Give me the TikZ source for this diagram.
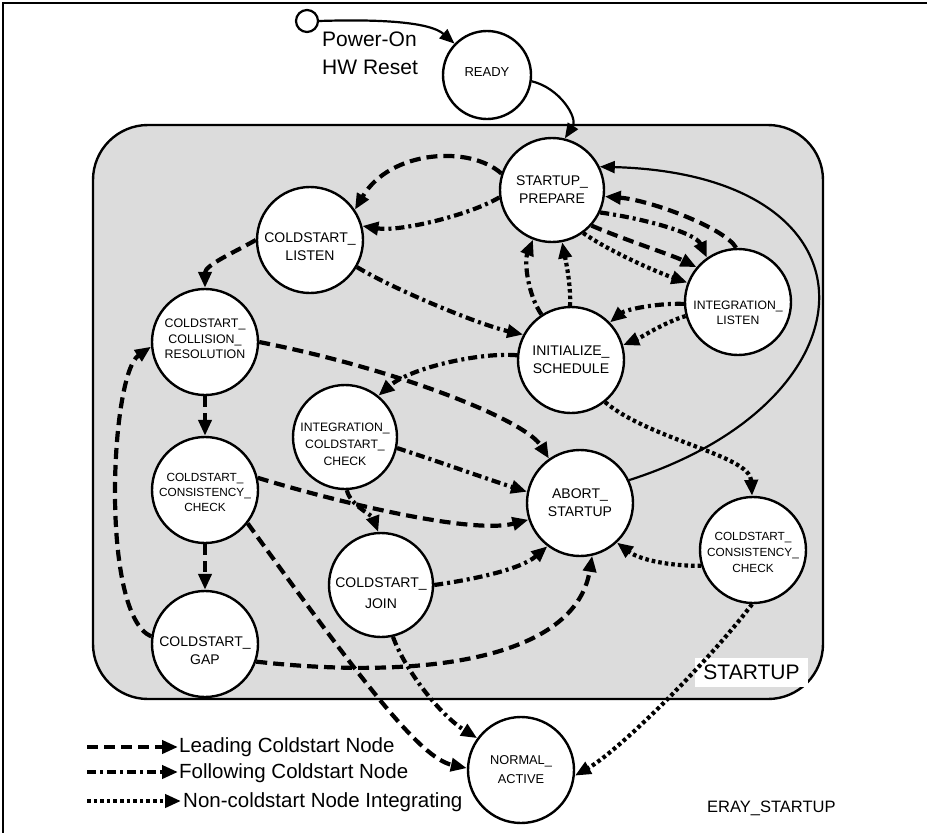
\documentclass[tikz,border=0pt]{standalone}
\usepackage{fontspec}
\setmainfont{Liberation Sans}
\usetikzlibrary{arrows.meta}
\definecolor{boxgray}{RGB}{220,220,220}
\tikzset{
  st/.style={circle, draw=black, line width=2.4pt, fill=white, inner sep=0pt},
  tx/.style={align=center, inner sep=0pt},
  fa/.style={font=\fontsize{14}{18}\selectfont},
  tip/.style={-{Triangle[length=16pt,width=13pt]}},
  lead/.style={tip, line width=4.2pt, dash pattern=on 11pt off 6pt},
  foll/.style={tip, line width=4.2pt, dash pattern=on 9pt off 4pt on 3pt off 4pt},
  nonc/.style={tip, line width=4.2pt, dash pattern=on 3.6pt off 3pt},
  sol/.style={line width=2.2pt, -{Triangle[length=15pt,width=12pt]}},
  bigtext/.style={inner sep=0pt, font=\fontsize{21}{28}\selectfont},
}
\begin{document}
\begin{tikzpicture}[x=1pt,y=-1pt]
\useasboundingbox (0,0) rectangle (927,833);
% outer frame (cropped)
\draw[line width=2pt] (2.5,845) -- (2.5,3) -- (940,3);
% STARTUP region
\draw[line width=2.4pt, fill=boxgray, rounded corners=55pt] (93,125) rectangle (823,699);
\node[fill=white, inner sep=0pt, minimum width=113pt, minimum height=29pt,
      font=\fontsize{21}{25}\selectfont] (lbl) at (751.5,672.5) {STARTUP};

% states
\node[st, minimum size=22pt, line width=2.2pt] (init) at (307,21) {};
\node[bigtext, anchor=west, align=left] (pwr) at (322,53) {Power-On\\HW Reset};
\node[st, minimum size=88pt, label={[tx, font=\fontsize{13}{16}\selectfont, yshift=3pt]center:READY}] (rdy) at (487,75) {};
\node[st, minimum size=104pt, label={[tx, fa]center:STARTUP\_\\PREPARE}] (sp) at (552,190) {};
\node[st, minimum size=106pt, label={[tx, fa, yshift=-7pt]center:COLDSTART\_\\LISTEN}] (cl) at (310,240) {};
\node[st, minimum size=106pt, label={[tx, font=\fontsize{12.2}{14.5}\selectfont, yshift=-11pt]center:INTEGRATION\_\\LISTEN}] (il) at (738,302) {};
\node[st, minimum size=106pt, label={[tx, fa]center:INITIALIZE\_\\SCHEDULE}] (is) at (571,360) {};
\node[st, minimum size=106pt, label={[tx, font=\fontsize{12.4}{15.5}\selectfont, yshift=3pt]center:COLDSTART\_\\COLLISION\_\\RESOLUTION}] (ccr) at (205,342) {};
\node[st, minimum size=106pt, label={[tx, font=\fontsize{11.8}{15}\selectfont, yshift=-2pt]center:COLDSTART\_\\CONSISTENCY\_\\CHECK}] (ccl) at (205,490) {};
\node[st, minimum size=106pt, label={[tx, fa, yshift=-7pt]center:COLDSTART\_\\GAP}] (gap) at (205,644) {};
\node[st, minimum size=104pt, label={[tx, font=\fontsize{12.2}{17}\selectfont, yshift=-7pt]center:INTEGRATION\_\\COLDSTART\_\\CHECK}] (icc) at (345,437) {};
\node[st, minimum size=106pt, label={[tx, fa]center:ABORT\_\\STARTUP}] (as) at (580,503) {};
\node[st, minimum size=104pt, label={[tx, font=\fontsize{14}{21}\selectfont, yshift=-8pt]center:COLDSTART\_\\JOIN}] (cj) at (381,585) {};
\node[st, minimum size=106pt, label={[tx, font=\fontsize{11.8}{16}\selectfont, yshift=-2pt]center:COLDSTART\_\\CONSISTENCY\_\\CHECK}] (ccrt) at (753,550) {};
\node[st, minimum size=106pt, label={[tx, font=\fontsize{12.8}{19}\selectfont]center:NORMAL\_\\ACTIVE}] (na) at (521,770) {};

% solid transitions
\draw[sol] (init.0) .. controls (380,19) and (430,22) .. (rdy.136);
\draw[sol] (rdy.-8) .. controls (560,88) and (578,118) .. (sp.76);
\draw[sol] (as.25) .. controls (880,400) and (890,175) .. (sp.26);

% transitions
\draw[lead] (sp.162) .. controls (470,145) and (390,150) .. (cl.34);
\draw[foll] (sp.188) .. controls (470,215) and (400,232) .. (cl.15);
\draw[lead] (cl.180) .. controls (235,252) and (205,265) .. (ccr.90);
\draw[foll] (cl.-30) .. controls (395,290) and (480,325) .. (is.152);
\draw[foll] (is.123) .. controls (528,295) and (524,262) .. (sp.249);
\draw[nonc] (is.91) .. controls (571,285) and (566,262) .. (sp.281);
\draw[foll] (sp.-25) .. controls (640,218) and (695,232) .. (il.125);
\draw[lead] (sp.-42) .. controls (625,240) and (672,255) .. (il.140);
\draw[nonc] (sp.-54) .. controls (615,255) and (665,275) .. (il.159);
\draw[lead] (il.92) .. controls (725,228) and (650,200) .. (sp.-7);
\draw[foll] (il.182) .. controls (655,303) and (625,310) .. (is.44);
\draw[nonc] (il.195) .. controls (665,322) and (640,338) .. (is.16);
\draw[foll] (is.175) .. controls (480,352) and (410,368) .. (icc.51);
\draw[nonc] (is.-51) .. controls (650,440) and (750,455) .. (ccrt.91);
\draw[lead] (ccr.0) .. controls (400,370) and (525,420) .. (as.125);
\draw[lead] (ccr.-90) -- (ccl.90);
\draw[lead] (ccl.-90) -- (gap.90);
\draw[lead] (gap.172) .. controls (100,615) and (110,375) .. (ccr.185);
\draw[lead] (ccl.13) .. controls (330,500) and (470,535) .. (as.198);
\draw[lead] (ccl.-38) .. controls (363,683) and (420,758) .. (na.178);
\draw[lead] (gap.-19) .. controls (420,680) and (575,660) .. (as.-77);
\draw[foll] (icc.-12) .. controls (440,462) and (490,480) .. (as.168);
\draw[foll] (icc.-88) .. controls (350,505) and (372,515) .. (cj.93);
\draw[foll] (cj.0) .. controls (470,580) and (520,570) .. (as.-127);
\draw[foll] (cj.-77) .. controls (405,670) and (440,715) .. (na.144);
\draw[nonc] (ccrt.197) .. controls (670,566) and (640,560) .. (as.-47);
\draw[nonc] (ccrt.-91) .. controls (710,660) and (620,750) .. (na.-6);

% legend
\coordinate (la1) at (87,747); \coordinate (lb1) at (178,747);
\coordinate (la2) at (87,772); \coordinate (lb2) at (178,772);
\coordinate (la3) at (87,801); \coordinate (lb3) at (181,801);
\draw[lead] (la1) -- (lb1);
\draw[foll] (la2) -- (lb2);
\draw[nonc] (la3) -- (lb3);
\node[inner sep=0pt, anchor=base west, font=\fontsize{20.5}{24}\selectfont] (t1) at (179,752.3) {Leading Coldstart Node};
\node[inner sep=0pt, anchor=base west, font=\fontsize{20.5}{24}\selectfont] (t2) at (179,778.3) {Following Coldstart Node};
\node[inner sep=0pt, anchor=base west, font=\fontsize{20.5}{24}\selectfont] (t3) at (183,807.3) {Non-coldstart Node Integrating};
\node[inner sep=0pt, anchor=base west, font=\fontsize{16.5}{20}\selectfont] (eray) at (707,812) {ERAY\_STARTUP};
\end{tikzpicture}
\end{document}
